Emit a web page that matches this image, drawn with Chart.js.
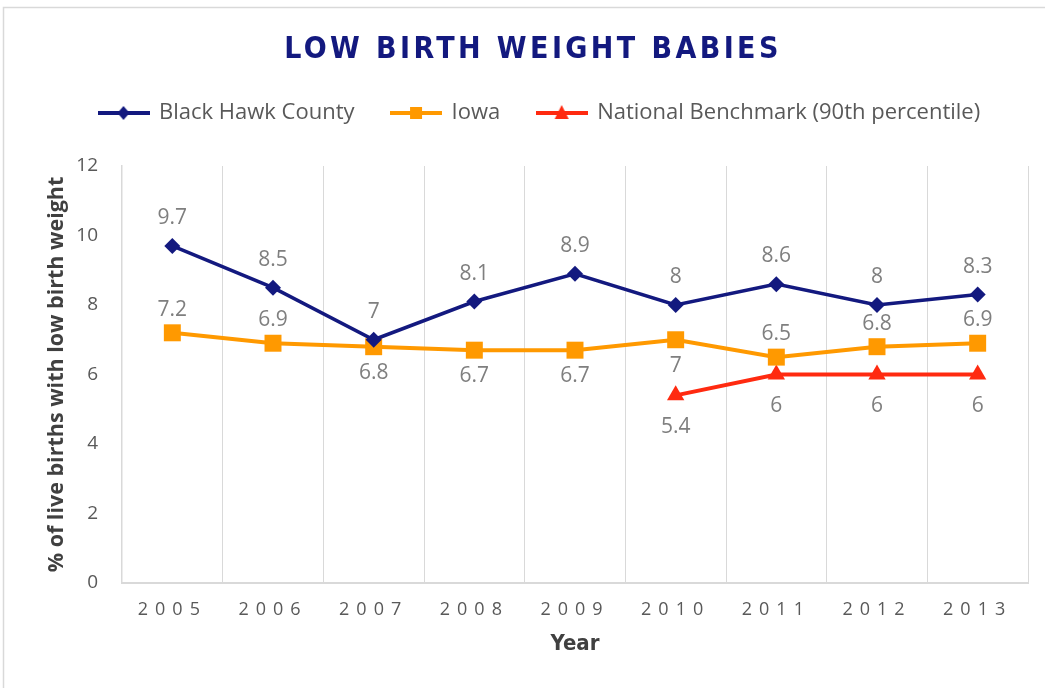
<!DOCTYPE html>
<html>
<head>
<meta charset="utf-8">
<script src="https://cdn.jsdelivr.net/npm/chart.js@4.4.0/dist/chart.umd.min.js"></script>
<style>
  html, body { margin: 0; padding: 0; background: #fff; }
</style>
</head>
<body>
<canvas id="chart-line" width="1045" height="688"></canvas>
<script>
var years = ["2005", "2006", "2007", "2008", "2009", "2010", "2011", "2012", "2013"];
var blackHawk = [9.7, 8.5, 7, 8.1, 8.9, 8, 8.6, 8, 8.3];
var iowa = [7.2, 6.9, 6.8, 6.7, 6.7, 7, 6.5, 6.8, 6.9];
var benchmark = [null, null, null, null, null, 5.4, 6, 6, 6];
var yTicks = [0, 2, 4, 6, 8, 10, 12];

var navy = "#13197f";
var orange = "#ff9900";
var red = "#ff2a10";
var narrow = "'Liberation Sans Narrow', 'DejaVu Sans Condensed', 'Roboto Condensed', sans-serif";

function legendIcon(color, shape) {
  var c = document.createElement("canvas");
  c.width = 52;
  c.height = 18;
  var g = c.getContext("2d");
  g.strokeStyle = color;
  g.fillStyle = color;
  g.lineWidth = 4;
  g.beginPath();
  g.moveTo(0, 9);
  g.lineTo(52, 9);
  g.stroke();
  g.beginPath();
  if (shape == "diamond") {
    g.moveTo(26, 2); g.lineTo(32, 9); g.lineTo(26, 16); g.lineTo(20, 9);
  } else if (shape == "square") {
    g.rect(20, 3, 12, 12);
  } else {
    g.moveTo(26, 1); g.lineTo(33, 15); g.lineTo(19, 15);
  }
  g.closePath();
  g.fill();
  return c;
}
var icons = [legendIcon(navy, "diamond"), legendIcon(orange, "square"), legendIcon(red, "triangle")];

// value labels above / below the markers, like the Excel data labels
var pointLabels = {
  id: "pointLabels",
  afterDatasetsDraw: function (chart) {
    var ctx = chart.ctx;
    ctx.save();
    ctx.font = "21px 'Open Sans'";
    ctx.fillStyle = "#7f7f7f";
    ctx.textAlign = "center";
    ctx.textBaseline = "middle";
    chart.data.datasets.forEach(function (ds, i) {
      var meta = chart.getDatasetMeta(i);
      meta.data.forEach(function (pt, j) {
        var v = ds.data[j];
        if (v == null) return;
        var y = ds.labelSide[j] == "up" ? pt.y - ds.labelGap[0] : pt.y + ds.labelGap[1];
        ctx.fillText(String(v), pt.x, y);
      });
    });
    ctx.restore();
  },
};

// letter spacing for title and year ticks, extra room under the legend
var tweaks = {
  id: "tweaks",
  beforeLayout: function (chart) {
    var lg = chart.legend;
    if (lg && !lg._wrapped) {
      var fit = lg.fit;
      lg.fit = function () {
        fit.call(this);
        this.height += 32;
      };
      lg._wrapped = true;
    }
  },
  afterLayout: function (chart) {
    var x = chart.scales.x;
    if (!x._spaced) {
      var drawLabels = x.drawLabels;
      x.drawLabels = function (area) {
        var c = this.ctx;
        c.save();
        c.letterSpacing = "7px";
        drawLabels.call(this, area);
        c.restore();
      };
      x._spaced = true;
    }
    var t = chart.titleBlock;
    if (t && !t._spaced) {
      var draw = t.draw;
      t.draw = function () {
        var c = this.ctx;
        c.save();
        c.letterSpacing = "3.4px";
        draw.apply(this, arguments);
        c.restore();
      };
      t._spaced = true;
    }
    chart.legend.left = 62;
  },
  beforeDraw: function (chart) {
    var ctx = chart.ctx;
    ctx.save();
    ctx.fillStyle = "#fff";
    ctx.fillRect(0, 0, chart.width, chart.height);
    ctx.strokeStyle = "#d9d9d9";
    ctx.lineWidth = 1.5;
    ctx.strokeRect(3.5, 7.5, 1200, 800);
    ctx.restore();
  },
};

var ctx = document.getElementById("chart-line").getContext("2d");

new Chart(ctx, {
  type: "line",
  data: {
    labels: years,
    datasets: [
      {
        label: "Black Hawk County",
        data: blackHawk,
        borderColor: navy,
        backgroundColor: navy,
        borderWidth: 3.5,
        pointStyle: "rectRot",
        pointRadius: 8,
        pointBorderWidth: 0,
        labelSide: ["up", "up", "up", "up", "up", "up", "up", "up", "up"],
        labelGap: [28, 0],
      },
      {
        label: "Iowa",
        data: iowa,
        borderColor: orange,
        backgroundColor: orange,
        borderWidth: 4,
        pointStyle: "rect",
        pointRadius: 12,
        pointBorderWidth: 0,
        labelSide: ["up", "up", "down", "down", "down", "down", "up", "up", "up"],
        labelGap: [23, 26],
      },
      {
        label: "National Benchmark (90th percentile)",
        data: benchmark,
        borderColor: red,
        backgroundColor: red,
        borderWidth: 4,
        pointStyle: "triangle",
        pointRadius: 10,
        pointBorderWidth: 0,
        labelSide: ["down", "down", "down", "down", "down", "down", "down", "down", "down"],
        labelGap: [0, 32],
      },
    ],
  },
  options: {
    responsive: false,
    animation: false,
    layout: {
      padding: { top: 10, left: 38, right: 17, bottom: 0 },
    },
    elements: {
      line: { tension: 0 },
    },
    plugins: {
      title: {
        display: true,
        text: "LOW BIRTH WEIGHT BABIES",
        color: navy,
        font: { size: 30, weight: "bold", family: narrow, lineHeight: 1 },
        padding: { top: 25, bottom: 0 },
      },
      legend: {
        display: true,
        align: "start",
        labels: {
          usePointStyle: true,
          pointStyleWidth: 49,
          padding: 37,
          color: "#595959",
          font: { size: 22, family: "Open Sans" },
          generateLabels: function (chart) {
            var items = Chart.defaults.plugins.legend.labels.generateLabels(chart);
            items.forEach(function (it, i) {
              it.pointStyle = icons[i];
            });
            return items;
          },
        },
      },
      tooltip: { enabled: false },
    },
    scales: {
      x: {
        offset: true,
        grid: {
          display: true,
          offset: true,
          color: "#d9d9d9",
          lineWidth: 1,
          drawTicks: false,
        },
        border: { display: true, color: "#d9d9d9", width: 2 },
        ticks: {
          color: "#595959",
          padding: 16,
          font: { size: 18, family: "Open Sans" },
        },
        title: {
          display: true,
          text: "Year",
          color: "#404040",
          font: { size: 22, weight: "bold", family: narrow },
          padding: { top: 0, bottom: 31 },
        },
        afterFit: function (scale) {
          scale.height = 105;
        },
      },
      y: {
        min: yTicks[0],
        max: yTicks[yTicks.length - 1],
        grid: { display: false, drawTicks: false },
        border: { display: true, color: "#d9d9d9", width: 1.5 },
        ticks: {
          stepSize: yTicks[1] - yTicks[0],
          color: "#595959",
          padding: 24,
          font: { size: 19, family: "Open Sans" },
        },
        title: {
          display: true,
          text: "% of live births with low birth weight",
          color: "#404040",
          font: { size: 21.5, weight: "bold", family: "Open Sans" },
          padding: { top: 5.5, bottom: 0 },
        },
        afterFit: function (scale) {
          scale.width = 84;
        },
      },
    },
  },
  plugins: [tweaks, pointLabels],
});
</script>
</body>
</html>
